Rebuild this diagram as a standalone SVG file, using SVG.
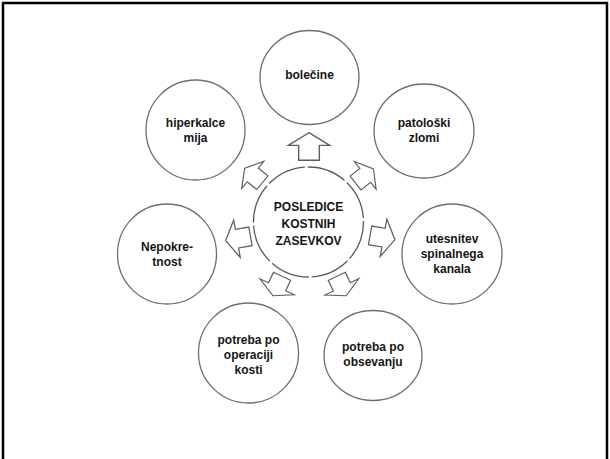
<svg xmlns="http://www.w3.org/2000/svg" width="610" height="459" viewBox="0 0 610 459">
<style>
.node ellipse{fill:#fff;stroke:#6e6e6e;stroke-width:1.3}
.hub ellipse{fill:#fff;stroke:#5a5a5a;stroke-width:1.3;stroke-dasharray:40 3}
text{font-family:"Liberation Sans",Arial,sans-serif;font-weight:bold;font-size:12px;fill:#151515;text-anchor:middle}
.arr{fill:#fff;stroke:#5e5e5e;stroke-width:1.2;stroke-linejoin:miter}
</style>
<defs>
<path id="ar" d="M0,-12 L18,-1 L9,-1 L9,12 L-9,12 L-9,-1 L-18,-1 Z"/>
</defs>
<rect width="610" height="459" fill="#fff"/>
<path d="M3,459 V3 H607 V459" fill="none" stroke="#000" stroke-width="2.5"/>
<g id="connectors">
<use href="#ar" class="arr" transform="translate(309,146.5) scale(1.15)"/>
<use href="#ar" class="arr" transform="translate(253.5,175.5) rotate(-51) scale(0.98,0.95)"/>
<use href="#ar" class="arr" transform="translate(364.5,176) rotate(52) scale(0.98,0.95)"/>
<use href="#ar" class="arr" transform="translate(238,238.5) rotate(-100) scale(1.05)"/>
<use href="#ar" class="arr" transform="translate(277.5,286) rotate(-155) scale(1.05,0.9)"/>
<use href="#ar" class="arr" transform="translate(382.5,237.5) rotate(100) scale(1.05)"/>
<use href="#ar" class="arr" transform="translate(341.5,286) rotate(154) scale(1.05,0.9)"/>
</g>
<g id="hub" class="hub">
<ellipse cx="308.5" cy="222" rx="55" ry="55"/>
<text x="308.5" y="211">POSLEDICE</text>
<text x="308.5" y="228">KOSTNIH</text>
<text x="308.5" y="245">ZASEVKOV</text>
</g>
<g id="bolecine" class="node">
<ellipse cx="309.5" cy="77.5" rx="49.5" ry="47"/>
<text x="309.5" y="79">bolečine</text>
</g>
<g id="hiperkalcemija" class="node">
<ellipse cx="195.5" cy="130" rx="49.5" ry="50"/>
<text x="195.5" y="127">hiperkalce</text>
<text x="195.5" y="142">mija</text>
</g>
<g id="patoloski" class="node">
<ellipse cx="424" cy="131" rx="50" ry="47"/>
<text x="424" y="127">patološki</text>
<text x="424" y="142">zlomi</text>
</g>
<g id="nepokretnost" class="node">
<ellipse cx="167" cy="254" rx="49.5" ry="50"/>
<text x="167" y="251">Nepokre-</text>
<text x="167" y="266">tnost</text>
</g>
<g id="utesnitev" class="node">
<ellipse cx="452" cy="254" rx="50" ry="50"/>
<text x="452" y="243">utesnitev</text>
<text x="452" y="258">spinalnega</text>
<text x="452" y="273">kanala</text>
</g>
<g id="operaciji" class="node">
<ellipse cx="248.5" cy="353" rx="50" ry="50"/>
<text x="248.5" y="344">potreba po</text>
<text x="248.5" y="359">operaciji</text>
<text x="248.5" y="374">kosti</text>
</g>
<g id="obsevanju" class="node">
<ellipse cx="373" cy="355.5" rx="49" ry="45"/>
<text x="373" y="351">potreba po</text>
<text x="373" y="366">obsevanju</text>
</g>
</svg>
